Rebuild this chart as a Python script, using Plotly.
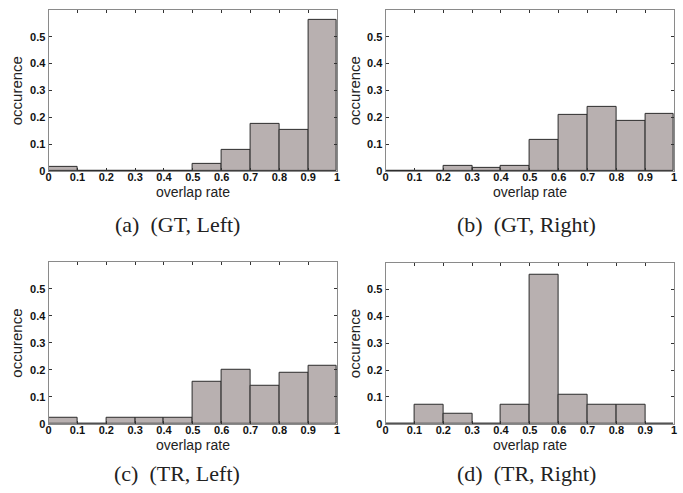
import plotly.graph_objects as go

# ---- data ----
bin_centers = [0.05, 0.15, 0.25, 0.35, 0.45, 0.55, 0.65, 0.75, 0.85, 0.95]
gt_left = [0.014, 0.0, 0.0, 0.0, 0.0, 0.027, 0.077, 0.175, 0.151, 0.563]
gt_right = [0.0, 0.0, 0.018, 0.011, 0.018, 0.115, 0.207, 0.239, 0.188, 0.213]
tr_left = [0.022, 0.0, 0.022, 0.022, 0.022, 0.156, 0.201, 0.141, 0.190, 0.213]
tr_right = [0.0, 0.072, 0.037, 0.0, 0.072, 0.554, 0.110, 0.072, 0.072, 0.0]
captions = ["(a)  (GT, Left)", "(b)  (GT, Right)", "(c)  (TR, Left)", "(d)  (TR, Right)"]
x_tickvals = [0, 0.1, 0.2, 0.3, 0.4, 0.5, 0.6, 0.7, 0.8, 0.9, 1]
x_ticktext = ["0", "0.1", "0.2", "0.3", "0.4", "0.5", "0.6", "0.7", "0.8", "0.9", "1"]
y_tickvals = [0, 0.1, 0.2, 0.3, 0.4, 0.5]
y_ticktext = ["0", "0.1", "0.2", "0.3", "0.4", "0.5"]
x_title = "overlap rate"
y_title = "occurence"

series = [gt_left, gt_right, tr_left, tr_right]

W, H = 683, 493
# pixel boxes (left, right, top, bottom)
boxes = [(46, 337, 10, 173), (386, 677, 10, 173), (46, 337, 265, 429), (386, 677, 266, 429)]
cap_pos = [(176, 227), (528, 227), (176, 479), (528, 479)]
xtitle_y = [194, 194, 450, 450]

fig = go.Figure()
bar_color = "#b8b0b0"
edge = "#2b2b2b"
frame = "#8a8a8a"
sans = "Liberation Sans"

for i, vals in enumerate(series):
    n = "" if i == 0 else str(i + 1)
    fig.add_trace(go.Bar(
        x=bin_centers, y=vals, width=0.1,
        marker=dict(color=bar_color, line=dict(color=edge, width=1)),
        xaxis="x" + n, yaxis="y" + n, showlegend=False,
    ))
    l, r, t, b = boxes[i]
    xa = dict(
        domain=[l / W, r / W], range=[0, 1], anchor="y" + n,
        tickvals=x_tickvals, ticktext=x_ticktext,
        ticks="inside", ticklen=3, tickcolor="#333", tickwidth=1,
        tickfont=dict(family=sans, size=11, color="#111", weight="bold"),
        ticklabeloverflow="allow", ticklabelstandoff=-4,
        showline=True, linecolor=frame, linewidth=1, mirror="ticks",
        showgrid=False, zeroline=False, fixedrange=True,
    )
    ya = dict(
        domain=[1 - b / H, 1 - t / H], range=[0, 0.6], anchor="x" + n,
        tickvals=y_tickvals, ticktext=y_ticktext,
        ticks="inside", ticklen=3, tickcolor="#333", tickwidth=1,
        tickfont=dict(family=sans, size=11, color="#111", weight="bold"),
        showline=True, linecolor=frame, linewidth=1, mirror="ticks",
        showgrid=False, zeroline=False, fixedrange=True,
    )
    fig.layout["xaxis" + n] = xa
    fig.layout["yaxis" + n] = ya
    # axis titles
    fig.add_annotation(
        text=x_title, x=(l + r) / 2 / W, y=1 - xtitle_y[i] / H, xref="paper", yref="paper",
        showarrow=False, xanchor="center", yanchor="middle", borderpad=0,
        font=dict(family=sans, size=14, color="#222"),
    )
    fig.add_annotation(
        text=y_title, x=14 / W + (l - 46) / W, y=1 - (t + b) / 2 / H, xref="paper", yref="paper",
        showarrow=False, xanchor="center", yanchor="middle", textangle=-90, borderpad=0,
        font=dict(family=sans, size=15, color="#222"),
    )
    cx, cy = cap_pos[i]
    fig.add_annotation(
        text=captions[i], x=cx / W, y=1 - cy / H, xref="paper", yref="paper",
        showarrow=False, xanchor="center", yanchor="middle",
        font=dict(family="Liberation Serif", size=22, color="#222"),
    )

fig.update_layout(
    width=W, height=H, margin=dict(l=0, r=0, t=0, b=0),
    paper_bgcolor="white", plot_bgcolor="white", bargap=0,
)

fig.write_html("out.html", config={"displayModeBar": False},
               post_script="document.body.style.margin='0';")
